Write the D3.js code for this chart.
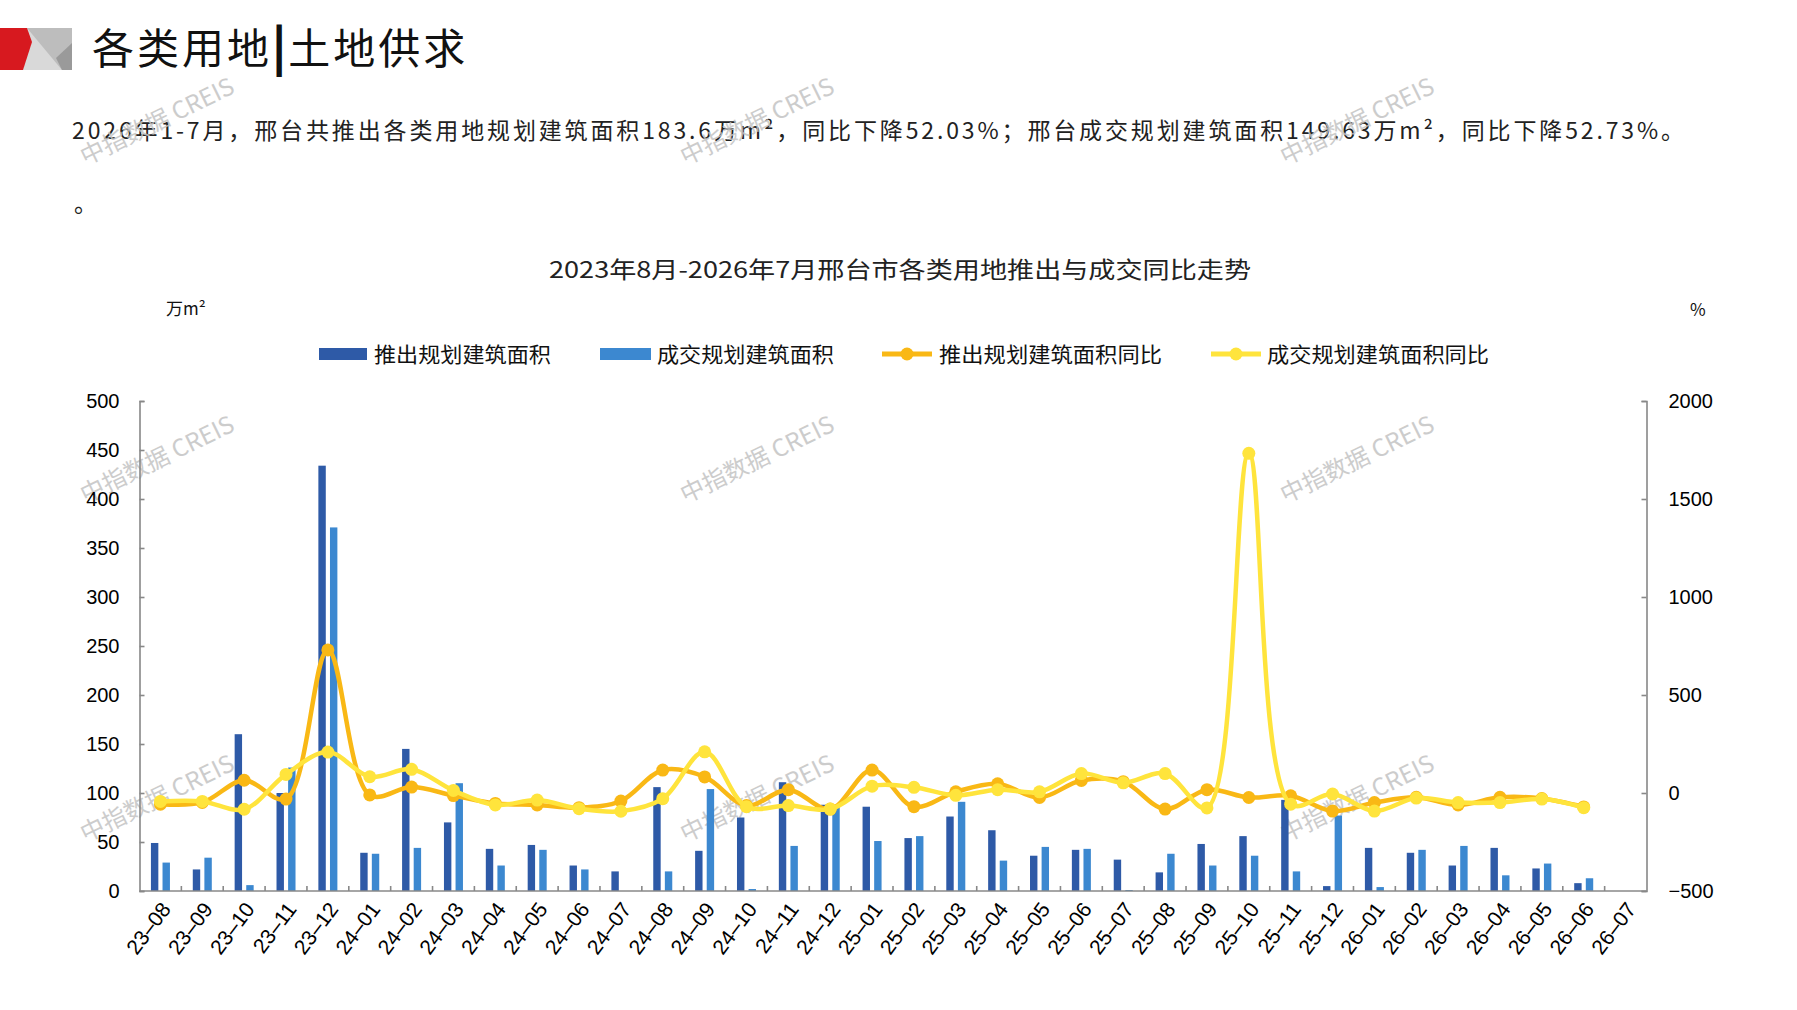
<!DOCTYPE html>
<html>
<head>
<meta charset="utf-8">
<script src="https://cdn.jsdelivr.net/npm/d3@7/dist/d3.min.js"></script>
<style>
  html, body { margin: 0; padding: 0; background: #fff; }
  svg { display: block; }
  text { font-family: "Noto Sans CJK SC", "Noto Sans", sans-serif; }
</style>
</head>
<body>
<svg id="chart" width="1797" height="1010"></svg>
<script>
// ---------------- DATA ----------------
const categories = ["23-08","23-09","23-10","23-11","23-12","24-01","24-02","24-03","24-04","24-05","24-06","24-07",
  "24-08","24-09","24-10","24-11","24-12","25-01","25-02","25-03","25-04","25-05","25-06","25-07",
  "25-08","25-09","25-10","25-11","25-12","26-01","26-02","26-03","26-04","26-05","26-06","26-07"];
// 推出规划建筑面积 (万m²)
const supplyArea = [49,22,160,100,434,39,145,70,43,47,26,20,106,41,75,111,88,86,54,76,62,36,42,32,19,48,56,93,5,44,39,26,44,23,8,null];
// 成交规划建筑面积 (万m²)
const dealArea = [29,34,6,126,371,38,44,110,26,42,22,0,20,104,2,46,86,51,56,91,31,45,43,1,38,26,36,20,77,4,42,46,16,28,13,null];
// 推出规划建筑面积同比 (%)
const supplyYoY = [-57,-48,65,-31,730,-10,30,-13,-53,-61,-75,-41,117,82,-64,17,-82,117,-70,6,47,-23,64,58,-82,17,-23,-14,-92,-49,-22,-61,-22,-28,-71,null];
// 成交规划建筑面积同比 (%)
const dealYoY = [-43,-43,-83,95,209,83,121,13,-61,-36,-80,-93,-29,210,-70,-64,-82,35,29,-12,17,6,99,52,99,-76,1733,-57,-5,-92,-26,-49,-49,-31,-75,null];
const leftTicks = [0,50,100,150,200,250,300,350,400,450,500];
const rightTicks = [-500,0,500,1000,1500,2000];
const seriesNames = ["推出规划建筑面积","成交规划建筑面积","推出规划建筑面积同比","成交规划建筑面积同比"];
const headingText = ["各类用地","|","土地供求"];
const summaryText = "2026年1-7月，邢台共推出各类用地规划建筑面积183.6万m²，同比下降52.03%；邢台成交规划建筑面积149.63万m²，同比下降52.73%。";
const chartTitle = "2023年8月-2026年7月邢台市各类用地推出与成交同比走势";
const watermark = "中指数据 CREIS";

// ---------------- STYLE ----------------
const C = { dark: "#2E5AA7", light: "#3C88D0", orange: "#F9B815", yellow: "#FFE43C", axis: "#888888" };
const plot = { left: 139.5, right: 1646.5, top: 401, bottom: 891 };

const svg = d3.select("#chart");

// header logo
const logo = svg.append("g");
logo.append("rect").attr("x", 20).attr("y", 28).attr("width", 52).attr("height", 42).attr("fill", "#d9d9d9");
logo.append("polygon").attr("points", "27,28 72,28 72,44 62,70").attr("fill", "#bdbdbd");
logo.append("polygon").attr("points", "72,43 72,70 62,70 56,58").attr("fill", "#9a9a9a");
logo.append("polygon").attr("points", "0,28 27,28 32,42 23,70 0,70").attr("fill", "#d7191f");

// heading
const head = svg.append("text").attr("x", 92).attr("y", 64).attr("font-size", 42).attr("fill", "#111").attr("font-weight", 400);
head.append("tspan").text(headingText[0]).attr("letter-spacing", 3);
head.append("tspan").text(headingText[1]).attr("font-weight", 900).attr("dx", 0).attr("font-size", 46);
head.append("tspan").text(headingText[2]).attr("dx", 2).attr("letter-spacing", 3);

// summary paragraph
svg.append("text").attr("x", 72).attr("y", 139).attr("font-size", 23).attr("fill", "#222")
  .attr("textLength", 1612).attr("lengthAdjust", "spacing").text(summaryText);
svg.append("text").attr("x", 74).attr("y", 212).attr("font-size", 23).attr("fill", "#222").text("。");

// chart title
svg.append("text").attr("x", 549).attr("y", 278).attr("font-size", 23).attr("fill", "#222")
  .attr("textLength", 702).attr("lengthAdjust", "spacingAndGlyphs").text(chartTitle);

// units
svg.append("text").attr("x", 166).attr("y", 315).attr("font-size", 17).attr("fill", "#111").text("万m²");
svg.append("text").attr("x", 1690).attr("y", 316).attr("font-size", 17).attr("fill", "#111").text("%");

// ---------------- SCALES ----------------
const x = d3.scaleBand().domain(categories).range([plot.left, plot.right]).paddingInner(0).paddingOuter(0);
const bw = x.bandwidth();
const yL = d3.scaleLinear().domain([0, 500]).range([plot.bottom, plot.top]);
const yR = d3.scaleLinear().domain([-500, 2000]).range([plot.bottom, plot.top]);
const barW = bw * 0.177;
const barGap = bw * 0.1;

// watermark (behind)
const wmPos = [[158,123],[758,123],[1358,123],[158,461],[758,461],[1358,461],[158,800],[758,800],[1358,800]];
svg.append("g").selectAll("text").data(wmPos).join("text")
  .attr("transform", d => `translate(${d[0]},${d[1]}) rotate(-26)`)
  .attr("text-anchor", "middle").attr("dominant-baseline", "middle")
  .attr("font-size", 24).attr("fill", "#c4c4c4").attr("opacity", 0.85)
  .text(watermark);

// bars
const gBars = svg.append("g");
gBars.selectAll(".bd").data(categories.map((c, i) => ({c, v: supplyArea[i]})).filter(d => d.v != null))
  .join("rect")
  .attr("x", d => x(d.c) + bw / 2 - barGap / 2 - barW)
  .attr("width", barW)
  .attr("y", d => yL(d.v)).attr("height", d => yL(0) - yL(d.v))
  .attr("fill", C.dark);
gBars.selectAll(".bl").data(categories.map((c, i) => ({c, v: dealArea[i]})).filter(d => d.v != null))
  .join("rect")
  .attr("x", d => x(d.c) + bw / 2 + barGap / 2)
  .attr("width", barW)
  .attr("y", d => yL(d.v)).attr("height", d => yL(0) - yL(d.v))
  .attr("fill", C.light);

// axes
const axL = d3.axisLeft(yL).tickValues(leftTicks).tickSize(-5).tickPadding(20);
const axR = d3.axisRight(yR).tickValues(rightTicks).tickSize(-5).tickPadding(22).tickFormat(d => d < 0 ? "\u2212" + Math.abs(d) : d);
const gL = svg.append("g").attr("transform", `translate(${plot.left},0)`).call(axL);
const gR = svg.append("g").attr("transform", `translate(${plot.right},0)`).call(axR);
[gL, gR].forEach(g => {
  g.select(".domain").attr("stroke", C.axis).attr("stroke-width", 1.6);
  g.selectAll(".tick line").attr("stroke", C.axis).attr("stroke-width", 1.6);
  g.selectAll(".tick text").attr("font-size", 20).attr("fill", "#000")
    .style("font-family", '"Liberation Sans", Arial, sans-serif');
});

// x axis
const gX = svg.append("g");
gX.append("line").attr("x1", plot.left).attr("x2", plot.right).attr("y1", plot.bottom).attr("y2", plot.bottom)
  .attr("stroke", C.axis).attr("stroke-width", 1.6);
gX.selectAll(".xt").data(categories.slice(1)).join("line")
  .attr("x1", d => x(d)).attr("x2", d => x(d))
  .attr("y1", plot.bottom).attr("y2", plot.bottom - 5)
  .attr("stroke", C.axis).attr("stroke-width", 1.6);
gX.selectAll(".xl").data(categories).join("text")
  .attr("transform", d => `translate(${x(d) + bw / 2 + 7},${plot.bottom + 15}) rotate(-53)`)
  .attr("text-anchor", "end").attr("dominant-baseline", "middle")
  .attr("font-size", 21).attr("fill", "#000")
  .style("font-family", '"Liberation Sans", Arial, sans-serif')
  .text(d => d.replace("-", "\u2013"));

// lines
const lineGen = d3.line()
  .defined(d => d.v != null)
  .x(d => x(d.c) + bw / 2)
  .y(d => yR(d.v))
  .curve(d3.curveCatmullRom.alpha(0.5));
function drawLine(vals, color) {
  const data = categories.map((c, i) => ({c, v: vals[i]}));
  const g = svg.append("g");
  g.append("path").datum(data).attr("d", lineGen)
    .attr("fill", "none").attr("stroke", color).attr("stroke-width", 4.5).attr("stroke-linejoin", "round");
  g.selectAll("circle").data(data.filter(d => d.v != null)).join("circle")
    .attr("cx", d => x(d.c) + bw / 2).attr("cy", d => yR(d.v)).attr("r", 6.5).attr("fill", color);
}
drawLine(supplyYoY, C.orange);
drawLine(dealYoY, C.yellow);

// legend
const lg = svg.append("g");
const ly = 354;
lg.append("rect").attr("x", 319).attr("y", ly - 6).attr("width", 48).attr("height", 12).attr("fill", C.dark);
lg.append("text").attr("x", 374).attr("y", ly + 8).attr("font-size", 21).attr("textLength", 177).attr("lengthAdjust", "spacingAndGlyphs").attr("fill", "#111").text(seriesNames[0]);
lg.append("rect").attr("x", 600).attr("y", ly - 6).attr("width", 51).attr("height", 12).attr("fill", C.light);
lg.append("text").attr("x", 657).attr("y", ly + 8).attr("font-size", 21).attr("textLength", 177).attr("lengthAdjust", "spacingAndGlyphs").attr("fill", "#111").text(seriesNames[1]);
lg.append("line").attr("x1", 882).attr("x2", 932).attr("y1", ly).attr("y2", ly).attr("stroke", C.orange).attr("stroke-width", 5);
lg.append("circle").attr("cx", 907).attr("cy", ly).attr("r", 6.5).attr("fill", C.orange);
lg.append("text").attr("x", 939).attr("y", ly + 8).attr("font-size", 21).attr("textLength", 223).attr("lengthAdjust", "spacingAndGlyphs").attr("fill", "#111").text(seriesNames[2]);
lg.append("line").attr("x1", 1211).attr("x2", 1261).attr("y1", ly).attr("y2", ly).attr("stroke", C.yellow).attr("stroke-width", 5);
lg.append("circle").attr("cx", 1236).attr("cy", ly).attr("r", 6.5).attr("fill", C.yellow);
lg.append("text").attr("x", 1267).attr("y", ly + 8).attr("font-size", 21).attr("textLength", 222).attr("lengthAdjust", "spacingAndGlyphs").attr("fill", "#111").text(seriesNames[3]);
</script>
</body>
</html>
